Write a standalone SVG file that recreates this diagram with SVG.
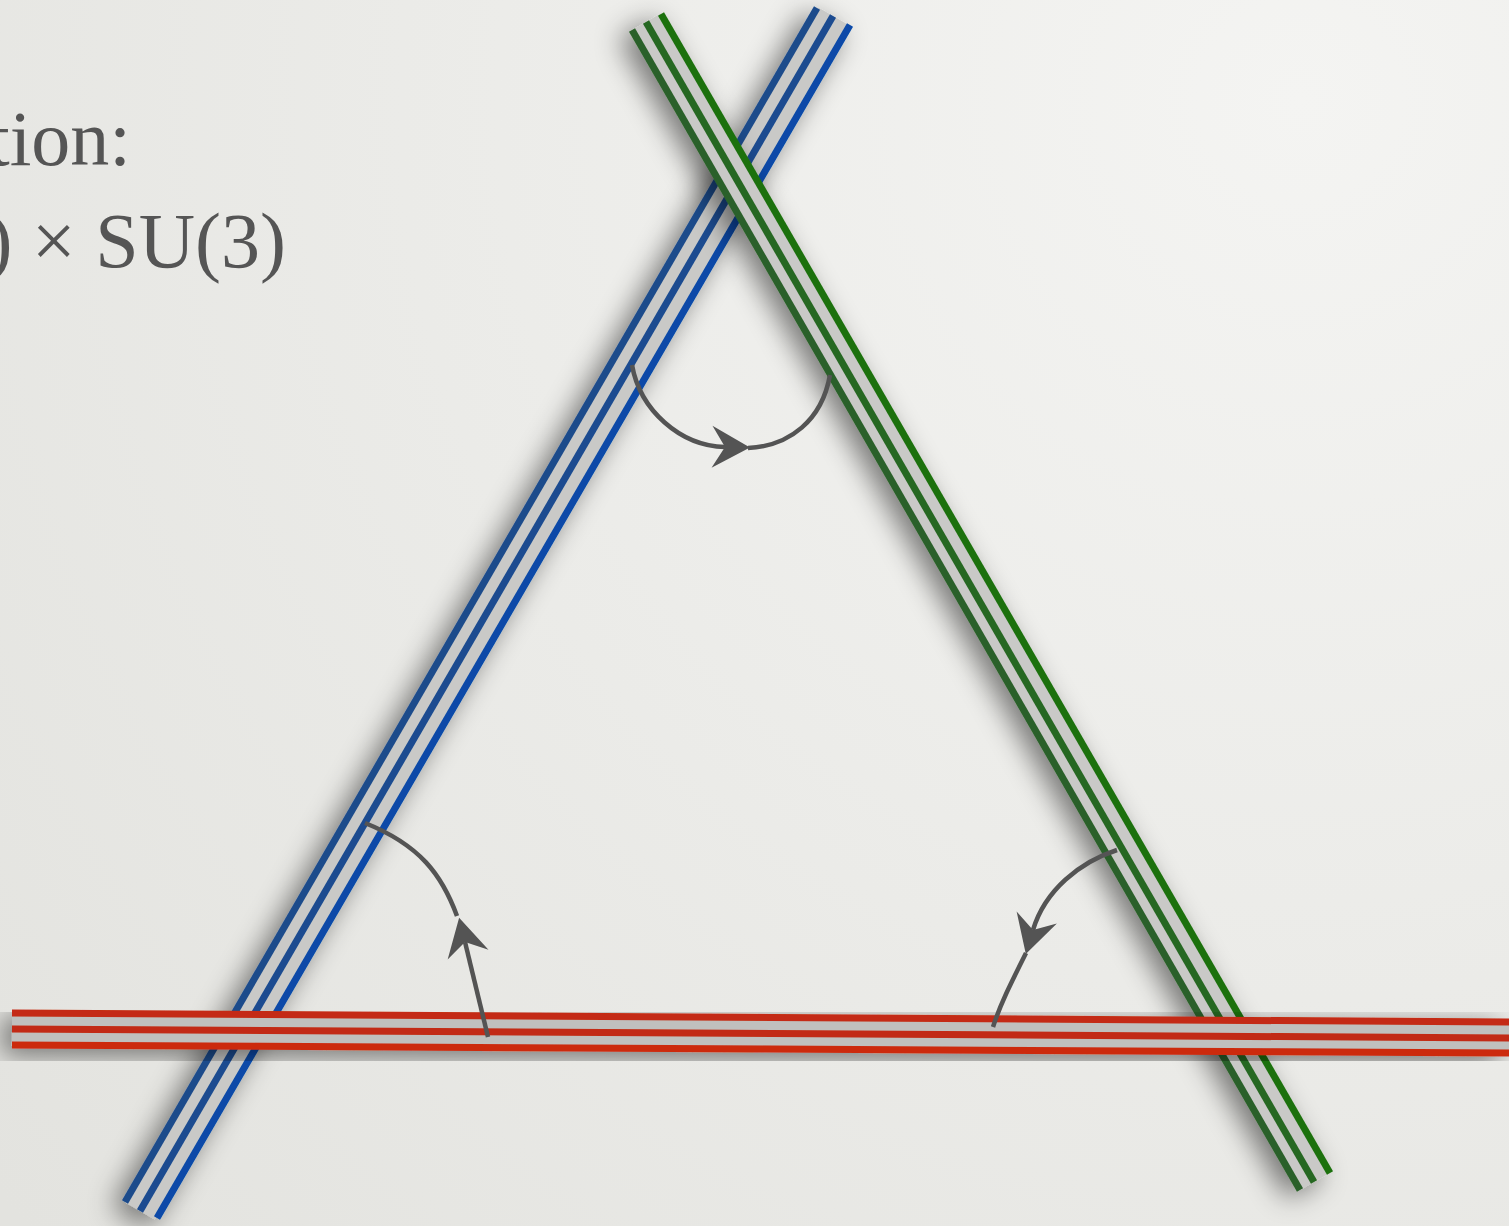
<svg xmlns="http://www.w3.org/2000/svg" width="1509" height="1226" viewBox="0 0 1509 1226">
<defs>
<radialGradient id="bg" cx="1300" cy="100" r="1700" gradientUnits="userSpaceOnUse">
<stop offset="0" stop-color="#f4f4f2"/>
<stop offset="1" stop-color="#e3e3df"/>
</radialGradient>
<filter id="shadow" x="-20%" y="-20%" width="140%" height="140%">
<feGaussianBlur in="SourceAlpha" stdDeviation="14"/>
<feOffset dx="-10" dy="7" result="b"/>
<feComponentTransfer><feFuncA type="linear" slope="0.5"/></feComponentTransfer>
<feMerge><feMergeNode/><feMergeNode in="SourceGraphic"/></feMerge>
</filter>
<marker id="head" viewBox="-40 -23 42 46" markerWidth="42" markerHeight="46" refX="-25" refY="0" orient="auto" markerUnits="userSpaceOnUse">
<path d="M0,0 L-38,-21 L-25,0 L-38,21 Z" fill="#545454"/>
</marker>
<style>
.band{fill:none;stroke-linecap:butt}
.bed{stroke:#c9c9c7;stroke-width:34}
.redbed{stroke:#c0c0be;stroke-width:34}
.ln{stroke-width:7}
.arc{fill:none;stroke:#545454;stroke-width:4.5;stroke-linecap:butt;stroke-linejoin:round}
.txt{font-family:"Liberation Serif","DejaVu Serif",serif;font-size:78px;fill:#555555}
</style>
</defs>
<rect width="1509" height="1226" fill="url(#bg)"/>
<g id="caption">
<text class="txt" x="131" y="165" text-anchor="end">tion:</text>
<text class="txt" x="286" y="267" text-anchor="end">) × SU(3)</text>
</g>
<g id="blue-band" class="band" filter="url(#shadow)">
<line class="bed" x1="833" y1="16" x2="140" y2="1211"/>
<line class="ln" stroke="#1d4b8b" x1="817" y1="8" x2="125" y2="1202"/>
<line class="ln" stroke="#1a4b90" x1="833" y1="16" x2="140" y2="1211"/>
<line class="ln" stroke="#0749a8" x1="850" y1="25" x2="157" y2="1218"/>
</g>
<g id="green-band" class="band" filter="url(#shadow)">
<line class="bed" x1="646" y1="22" x2="1314" y2="1182"/>
<line class="ln" stroke="#2b6029" x1="632" y1="30" x2="1300" y2="1190"/>
<line class="ln" stroke="#286722" x1="646" y1="22" x2="1314" y2="1182"/>
<line class="ln" stroke="#1f7110" x1="661" y1="14" x2="1330" y2="1173"/>
</g>
<g id="red-band" class="band" filter="url(#shadow)">
<line class="redbed" x1="12" y1="1029" x2="1509" y2="1038"/>
<line class="ln" stroke="#c42b12" stroke-width="8" x1="12" y1="1013" x2="1509" y2="1022"/>
<line class="ln" stroke="#c22a12" stroke-width="8" x1="12" y1="1029" x2="1509" y2="1038"/>
<line class="ln" stroke="#cc2a10" stroke-width="8" x1="12" y1="1045" x2="1509" y2="1053"/>
</g>
<g id="connectors">
<path class="arc" d="M632,365 C640,410 680,446 725,447" marker-end="url(#head)"/>
<path class="arc" d="M748,448 C790,446 822,420 830,375"/>
<path class="arc" d="M488,1037 L465,942" marker-end="url(#head)"/>
<path class="arc" d="M457,916 C442,875 420,845 365,823"/>
<path class="arc" d="M1117,850 C1080,862 1045,890 1033,930" marker-end="url(#head)"/>
<path class="arc" d="M1026,953 C1010,985 1000,1005 993,1027"/>
</g>
</svg>
